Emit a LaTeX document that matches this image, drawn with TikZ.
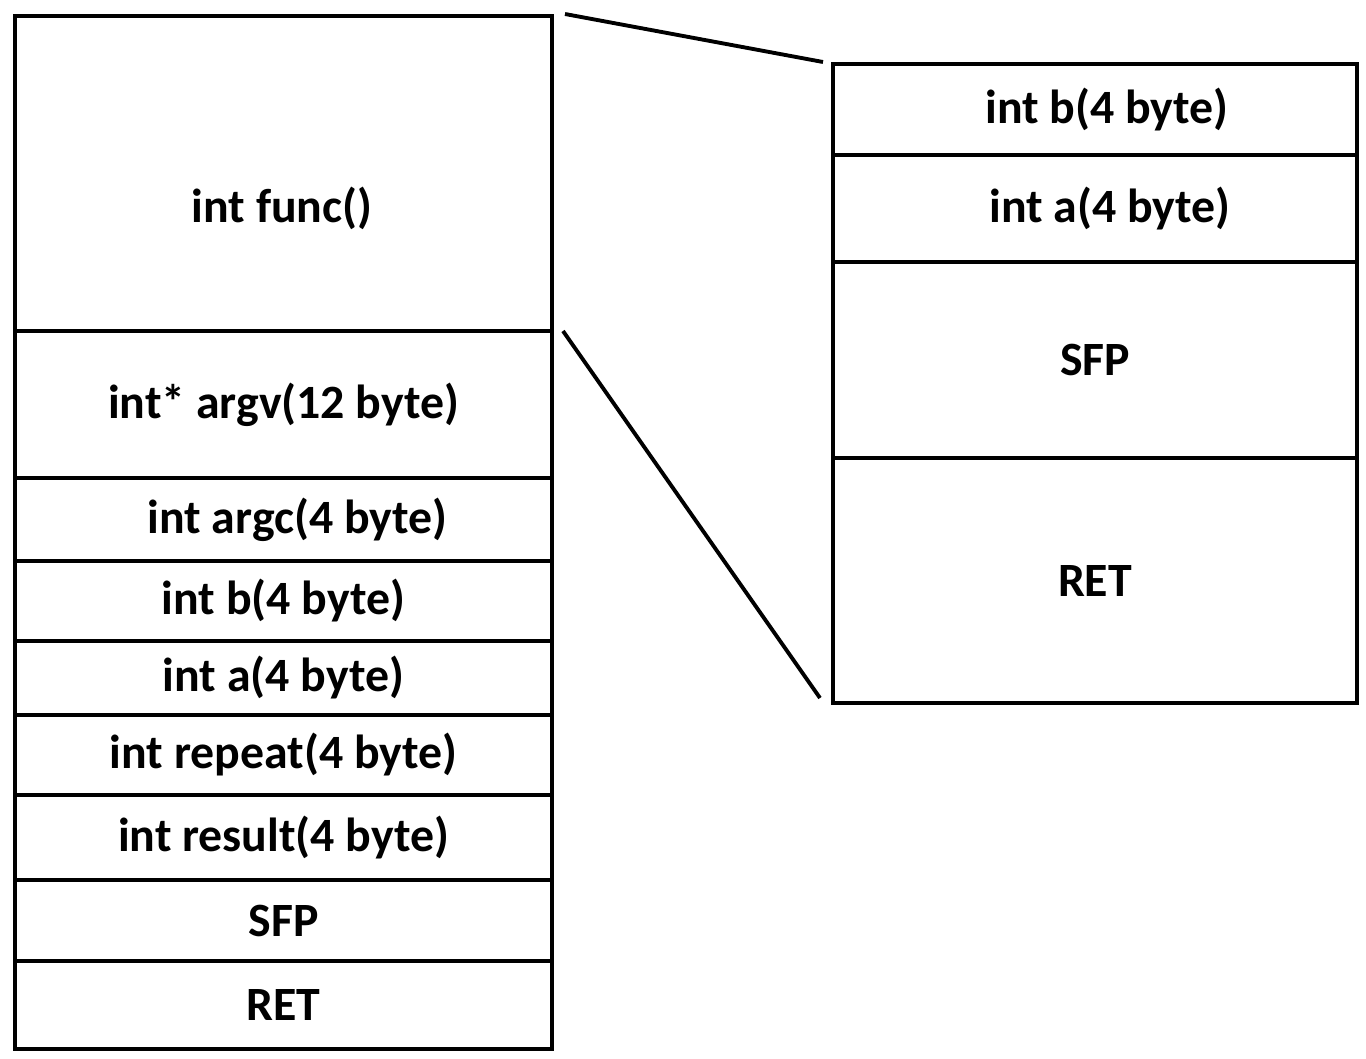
\documentclass[tikz,border=0pt]{standalone}
\usepackage{fontspec}
\setmainfont{Carlito}
\usepackage{tikz}

\begin{document}
\begin{tikzpicture}[
    cell/.style={rectangle, draw, line width=1.1pt, inner sep=0pt, outer sep=0pt,
        font=\fontsize{13.6}{15}\selectfont\bfseries}
]
\useasboundingbox (0,0) rectangle (13.66,10.58);
% left stack
\node[cell, minimum width=5.37cm, minimum height=3.15cm] (func) at (2.835,8.845) {};
\node[font=\fontsize{13.6}{15}\selectfont\bfseries] (functxt) at (2.82,8.50) {int func()};
\node[cell, minimum width=5.37cm, minimum height=1.47cm] (argv) at (2.835,6.535) {int* argv(12 byte)};
\node[cell, minimum width=5.37cm, minimum height=0.83cm] (argc) at (2.835,5.385) {\hspace{0.28cm}int argc(4 byte)};
\node[cell, minimum width=5.37cm, minimum height=0.80cm] (lb) at (2.835,4.57) {int b(4 byte)};
\node[cell, minimum width=5.37cm, minimum height=0.74cm] (la) at (2.835,3.80) {int a(4 byte)};
\node[cell, minimum width=5.37cm, minimum height=0.80cm] (repeat) at (2.835,3.03) {int repeat(4 byte)};
\node[cell, minimum width=5.37cm, minimum height=0.85cm] (result) at (2.835,2.205) {int result(4 byte)};
\node[cell, minimum width=5.37cm, minimum height=0.81cm] (lsfp) at (2.835,1.375) {SFP};
\node[cell, minimum width=5.37cm, minimum height=0.88cm] (lret) at (2.835,0.53) {RET};

% right stack
\node[cell, minimum width=5.24cm, minimum height=0.91cm] (rb) at (10.95,9.485) {\hspace{0.24cm}int b(4 byte)};
\node[cell, minimum width=5.24cm, minimum height=1.07cm] (ra) at (10.95,8.495) {\hspace{0.3cm}int a(4 byte)};
\node[cell, minimum width=5.24cm, minimum height=1.96cm] (rsfp) at (10.95,6.98) {SFP};
\node[cell, minimum width=5.24cm, minimum height=2.45cm] (rret) at (10.95,4.775) {RET};

% zoom lines
\coordinate (z1) at (5.65,10.44);
\coordinate (z2) at (8.23,9.96);
\coordinate (z3) at (5.63,7.27);
\coordinate (z4) at (8.20,3.60);
\draw[line width=1.1pt] (z1) -- (z2);
\draw[line width=1.1pt] (z3) -- (z4);
\end{tikzpicture}
\end{document}
